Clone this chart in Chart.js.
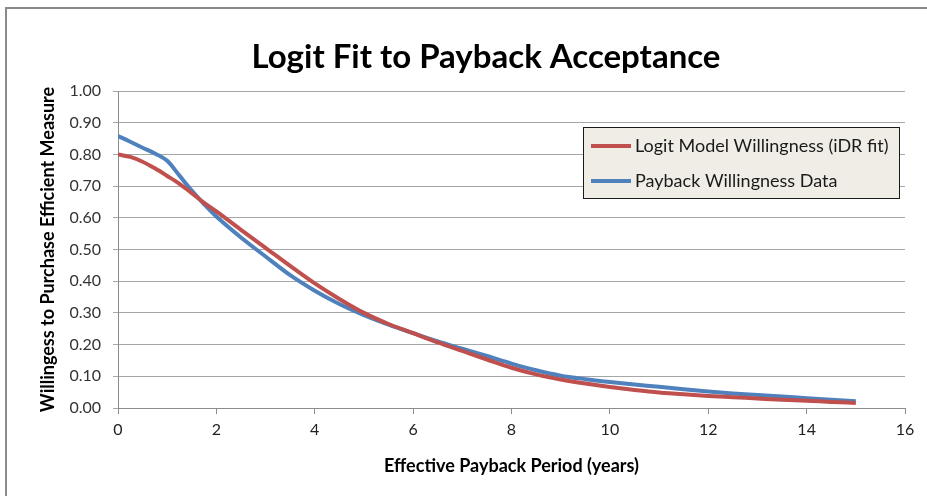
<!DOCTYPE html>
<html>
<head>
<meta charset="utf-8">
<script src="https://cdn.jsdelivr.net/npm/chart.js@4"></script>
<style>
  html, body { margin: 0; padding: 0; background: #fff; overflow: hidden; }
  #rahmen { position: absolute; left: 5px; top: 7px; width: 960px; height: 520px;
            border-left: 2px solid #8a8a8a; border-top: 2px solid #8a8a8a; }
  #wrap { position: absolute; left: 0; top: 0; width: 927px; height: 496px; }
</style>
</head>
<body>
<div id="rahmen"></div>
<div id="wrap"><canvas id="myChart" width="927" height="496"></canvas></div>
<script>
// payback period in years
var jahre = [0, 0.25, 0.5, 0.75, 1, 1.25, 1.5, 1.75, 2, 2.5, 3, 3.5, 4, 4.5, 5, 5.5, 6, 6.5, 7, 7.5, 8,
             8.5, 9, 9.5, 10, 10.5, 11, 11.5, 12, 12.5, 13, 13.5, 14, 14.5, 15];
// Logit Model Willingness (iDR fit)
var logit_werte = [0.800, 0.792, 0.777, 0.756, 0.732, 0.707, 0.678, 0.647, 0.620, 0.562, 0.505, 0.448, 0.393, 0.344,
                   0.300, 0.265, 0.236, 0.207, 0.180, 0.153, 0.127, 0.106, 0.090, 0.077, 0.066, 0.057, 0.049,
                   0.043, 0.038, 0.034, 0.030, 0.026, 0.023, 0.019, 0.016];
// Payback Willingness Data
var payback_werte = [0.858, 0.840, 0.821, 0.803, 0.780, 0.733, 0.686, 0.643, 0.604, 0.538, 0.478, 0.419, 0.370, 0.328,
                     0.293, 0.263, 0.236, 0.210, 0.187, 0.164, 0.140, 0.119, 0.102, 0.091, 0.082, 0.074, 0.067,
                     0.059, 0.052, 0.046, 0.041, 0.036, 0.031, 0.026, 0.021];
var serien_namen = ["Logit Model Willingness (iDR fit)", "Payback Willingness Data"];
var titel = "Logit Fit to Payback Acceptance";
var x_titel = "Effective Payback Period (years)";
var y_titel = "Willingess to Purchase Efficient Measure";

function punkte(werte){
    let p = [];
    for (let i = 0; i < jahre.length; i++){
        p.push({x: jahre[i], y: werte[i]});
    }
    return p;
}

// Titel etwas links von der Mitte, wie im Original
var titel_plugin = {
    id: "titelText",
    afterDraw: function(chart){
        let ctx = chart.ctx;
        ctx.save();
        ctx.font = "bold 33px Lato";
        ctx.fillStyle = "#000";
        ctx.textAlign = "center";
        ctx.textBaseline = "middle";
        ctx.fillText(titel, 486, 57);
        ctx.restore();
    }
};

// Legende als Kasten im Diagramm
var kasten_legende = {
    id: "kastenLegende",
    afterDraw: function(chart){
        let ctx = chart.ctx;
        let ca = chart.chartArea;
        let x0 = ca.right - 322, y0 = ca.top + 36, b = 316, h = 71;
        ctx.save();
        ctx.fillStyle = "#efede6";
        ctx.fillRect(x0, y0, b, h);
        ctx.strokeStyle = "#1a1a1a";
        ctx.lineWidth = 1;
        ctx.strokeRect(x0 + 0.5, y0 + 0.5, b, h);
        ctx.font = "18px Lato";
        ctx.textBaseline = "middle";
        chart.data.datasets.forEach(function(ds, i){
            let y = y0 + 19 + i * 35;
            ctx.strokeStyle = ds.borderColor;
            ctx.lineWidth = 4;
            ctx.beginPath();
            ctx.moveTo(x0 + 8, y);
            ctx.lineTo(x0 + 48, y);
            ctx.stroke();
            ctx.fillStyle = "#1a1a1a";
            ctx.fillText(ds.label, x0 + 52, y);
        });
        ctx.restore();
    }
};

new Chart("myChart", {
    type: "line",
    data: {
        datasets: [{
            label: serien_namen[0],
            data: punkte(logit_werte),
            borderColor: "#c0504d",
            borderWidth: 4,
            pointRadius: 0,
            cubicInterpolationMode: "monotone",
            fill: false
        }, {
            label: serien_namen[1],
            data: punkte(payback_werte),
            borderColor: "#4f81bd",
            borderWidth: 4,
            pointRadius: 0,
            cubicInterpolationMode: "monotone",
            fill: false
        }]
    },
    options: {
        responsive: false,
        animation: false,
        layout: {padding: {left: 0, right: 22, top: 91, bottom: 0}},
        plugins: {
            legend: {display: false},
            tooltip: {enabled: false},
            title: {display: false}
        },
        scales: {
            x: {
                type: "linear",
                min: 0, max: 16,
                ticks: {stepSize: 2, color: "#222", padding: 6, font: {family: "Lato", size: 16}},
                grid: {display: true, drawOnChartArea: false, color: "#8c8c8c", tickLength: 6},
                border: {color: "#8c8c8c", width: 1},
                title: {display: true, text: x_titel, color: "#000",
                        font: {family: "Lato", size: 18, weight: "bold", lineHeight: 1.2},
                        padding: {top: 0, bottom: 19}},
                afterFit: function(s){ s.height = 88; }
            },
            y: {
                min: 0, max: 1,
                ticks: {stepSize: 0.1, color: "#333", padding: 12, font: {family: "Lato", size: 16},
                        callback: function(v){ return v.toFixed(2); }},
                grid: {color: "#a6a6a6", tickLength: 5},
                border: {color: "#8c8c8c", width: 1},
                title: {display: true, text: y_titel, color: "#000",
                        font: {family: "Lato", size: 18, weight: "bold", lineHeight: 1.2},
                        padding: {top: 37, bottom: 0}},
                afterFit: function(s){ s.width = 118; }
            }
        }
    },
    plugins: [titel_plugin, kasten_legende]
});
</script>
</body>
</html>
